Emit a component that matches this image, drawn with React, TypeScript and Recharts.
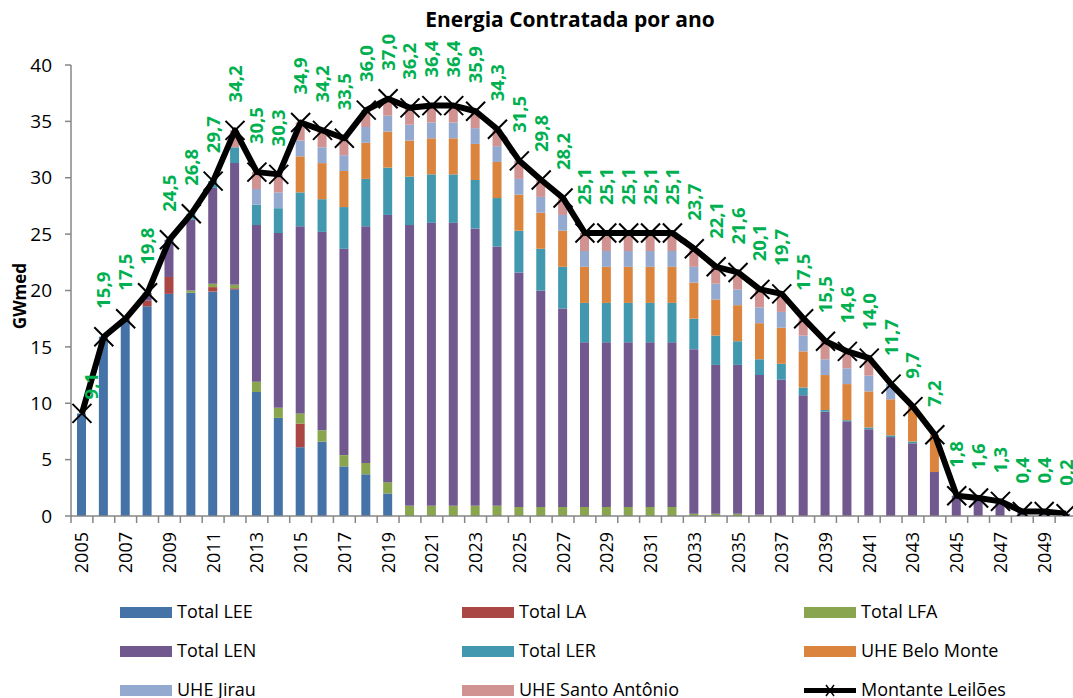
import React from 'react';
import { ComposedChart, Bar, Line, XAxis, YAxis, LabelList } from 'recharts';

const years = [
  '2005', '2006', '2007', '2008', '2009', '2010', '2011', '2012', '2013', '2014',
  '2015', '2016', '2017', '2018', '2019', '2020', '2021', '2022', '2023', '2024',
  '2025', '2026', '2027', '2028', '2029', '2030', '2031', '2032', '2033', '2034',
  '2035', '2036', '2037', '2038', '2039', '2040', '2041', '2042', '2043', '2044',
  '2045', '2046', '2047', '2048', '2049', '2050',
];

const totalLEE = [
  9.1, 15.9, 17.4, 18.6, 19.7, 19.8, 19.9, 20.1, 11.0, 8.7,
  6.1, 6.6, 4.4, 3.7, 2.0, 0, 0, 0, 0, 0,
  0, 0, 0, 0, 0, 0, 0, 0, 0, 0,
  0, 0, 0, 0, 0, 0, 0, 0, 0, 0,
  0, 0, 0, 0, 0, 0,
];

const totalLA = [
  0, 0, 0.1, 0.5, 1.5, 0, 0.4, 0.1, 0, 0,
  2.1, 0, 0, 0, 0, 0, 0, 0, 0, 0,
  0, 0, 0, 0, 0, 0, 0, 0, 0, 0,
  0, 0, 0, 0, 0, 0, 0, 0, 0, 0,
  0, 0, 0, 0, 0, 0,
];

const totalLFA = [
  0, 0, 0, 0, 0, 0.2, 0.3, 0.3, 0.9, 0.9,
  0.9, 1.0, 1.0, 1.0, 1.0, 0.9, 0.9, 0.9, 0.9, 0.9,
  0.8, 0.8, 0.8, 0.8, 0.8, 0.8, 0.8, 0.8, 0.2, 0.2,
  0.2, 0.1, 0, 0, 0, 0, 0, 0, 0, 0,
  0, 0, 0, 0, 0, 0,
];

const totalLEN = [
  0, 0, 0, 0.7, 3.3, 6.3, 8.5, 10.8, 13.9, 15.5,
  16.6, 17.6, 18.3, 21.0, 23.7, 24.9, 25.1, 25.1, 24.6, 23.0,
  20.8, 19.2, 17.6, 14.6, 14.6, 14.6, 14.6, 14.6, 14.6, 13.2,
  13.2, 12.4, 12.1, 10.7, 9.25, 8.4, 7.7, 7.0, 6.45, 3.9,
  1.8, 1.6, 1.3, 0.4, 0.4, 0.2,
];

const totalLER = [
  0, 0, 0, 0, 0, 0.5, 0.6, 1.4, 1.8, 2.2,
  3.0, 2.9, 3.7, 4.2, 4.2, 4.3, 4.3, 4.3, 4.3, 4.3,
  3.7, 3.7, 3.7, 3.5, 3.5, 3.5, 3.5, 3.5, 2.7, 2.6,
  2.1, 1.4, 1.4, 0.7, 0.15, 0.1, 0.15, 0.15, 0.15, 0,
  0, 0, 0, 0, 0, 0,
];

const uheBeloMonte = [
  0, 0, 0, 0, 0, 0, 0, 0, 0, 0,
  3.2, 3.2, 3.2, 3.2, 3.2, 3.2, 3.2, 3.2, 3.2, 3.2,
  3.2, 3.2, 3.2, 3.2, 3.2, 3.2, 3.2, 3.2, 3.2, 3.2,
  3.2, 3.2, 3.2, 3.2, 3.1, 3.2, 3.2, 3.2, 3.1, 3.3,
  0, 0, 0, 0, 0, 0,
];

const uheJirau = [
  0, 0, 0, 0, 0, 0, 0, 0, 1.4, 1.4,
  1.4, 1.4, 1.4, 1.4, 1.4, 1.4, 1.4, 1.4, 1.4, 1.4,
  1.4, 1.4, 1.4, 1.4, 1.4, 1.4, 1.4, 1.4, 1.4, 1.4,
  1.4, 1.4, 1.4, 1.4, 1.4, 1.4, 1.4, 1.35, 0, 0,
  0, 0, 0, 0, 0, 0,
];

const uheSantoAntonio = [
  0, 0, 0, 0, 0, 0, 0, 1.5, 1.5, 1.6,
  1.6, 1.5, 1.5, 1.5, 1.5, 1.5, 1.5, 1.5, 1.5, 1.5,
  1.6, 1.5, 1.5, 1.6, 1.6, 1.6, 1.6, 1.6, 1.6, 1.5,
  1.5, 1.6, 1.6, 1.5, 1.6, 1.5, 1.55, 0, 0, 0,
  0, 0, 0, 0, 0, 0,
];

const montanteLeiloes = [
  9.1, 15.9, 17.5, 19.8, 24.5, 26.8, 29.7, 34.2, 30.5, 30.3,
  34.9, 34.2, 33.5, 36.0, 37.0, 36.2, 36.4, 36.4, 35.9, 34.3,
  31.5, 29.8, 28.2, 25.1, 25.1, 25.1, 25.1, 25.1, 23.7, 22.1,
  21.6, 20.1, 19.7, 17.5, 15.5, 14.6, 14.0, 11.7, 9.7, 7.2,
  1.8, 1.6, 1.3, 0.4, 0.4, 0.2,
];

const yTicks = [0, 5, 10, 15, 20, 25, 30, 35, 40];

const series = [
  { key: 'lee', name: 'Total LEE', color: '#4572A7' },
  { key: 'la', name: 'Total LA', color: '#AA4643' },
  { key: 'lfa', name: 'Total LFA', color: '#89A54E' },
  { key: 'len', name: 'Total LEN', color: '#71588F' },
  { key: 'ler', name: 'Total LER', color: '#4198AF' },
  { key: 'bm', name: 'UHE Belo Monte', color: '#DB843D' },
  { key: 'jirau', name: 'UHE Jirau', color: '#93A9CF' },
  { key: 'sa', name: 'UHE Santo Antônio', color: '#D19392' },
];

const data = years.map((year, i) => ({
  year,
  lee: totalLEE[i],
  la: totalLA[i],
  lfa: totalLFA[i],
  len: totalLEN[i],
  ler: totalLER[i],
  bm: uheBeloMonte[i],
  jirau: uheJirau[i],
  sa: uheSantoAntonio[i],
  total: montanteLeiloes[i],
}));

const FONT = '"Open Sans", "Liberation Sans", sans-serif';
const AXIS_GRAY = '#868686';

const fmt = (v: number) => v.toFixed(1).replace('.', ',');

const XTick = (props: any) => {
  const { x, y, payload, index } = props;
  const half = payload && typeof payload.offset === 'number' && payload.offset > 0 ? payload.offset : 10.93;
  const bx = x - half;
  const tx = x + 6.5;
  const ty = y + 16;
  return (
    <g>
      <line x1={bx} y1={y} x2={bx} y2={y + 7} stroke={AXIS_GRAY} strokeWidth={1.5} />
      {index % 2 === 0 ? (
        <text
          x={tx}
          y={ty}
          transform={`rotate(-90, ${tx}, ${ty})`}
          textAnchor="end"
          fontSize={18}
          fontFamily={FONT}
          fill="#000"
        >
          {payload.value}
        </text>
      ) : null}
    </g>
  );
};

const XDot = (props: any) => {
  const { cx, cy, index } = props;
  if (cx == null || cy == null) return <g key={`d${index}`} />;
  const s = 9.5;
  return (
    <g key={`d${index}`}>
      <line x1={cx - s} y1={cy - s} x2={cx + s} y2={cy + s} stroke="#000" strokeWidth={2} />
      <line x1={cx - s} y1={cy + s} x2={cx + s} y2={cy - s} stroke="#000" strokeWidth={2} />
    </g>
  );
};

const renderLabel = (props: any) => {
  const { x, y, value, index } = props;
  if (x == null || y == null) return null;
  const first = index === 0;
  const tx = x + (first ? 16 : 6.5);
  const ty = y - (first ? 14 : 28);
  return (
    <text
      key={`l${index}`}
      x={tx}
      y={ty}
      transform={`rotate(-90, ${tx}, ${ty})`}
      textAnchor="start"
      fontSize={18.5}
      fontWeight="bold"
      fontFamily={FONT}
      fill="#00B050"
    >
      {fmt(Number(value))}
    </text>
  );
};

const legendItems = [
  { name: 'Total LEE', color: '#4572A7', col: 0, row: 0 },
  { name: 'Total LA', color: '#AA4643', col: 1, row: 0 },
  { name: 'Total LFA', color: '#89A54E', col: 2, row: 0 },
  { name: 'Total LEN', color: '#71588F', col: 0, row: 1 },
  { name: 'Total LER', color: '#4198AF', col: 1, row: 1 },
  { name: 'UHE Belo Monte', color: '#DB843D', col: 2, row: 1 },
  { name: 'UHE Jirau', color: '#93A9CF', col: 0, row: 2 },
  { name: 'UHE Santo Antônio', color: '#D19392', col: 1, row: 2 },
];

const colX = [120, 462, 804];
const rowY = [607, 646, 685];

export default function App() {
  return (
    <div
      style={{
        position: 'absolute',
        left: 0,
        top: 0,
        width: 1073,
        height: 698,
        overflow: 'hidden',
        background: '#fff',
      }}
    >
      <ComposedChart
        width={1080}
        height={698}
        data={data}
        margin={{ top: 65, right: 3, bottom: 122, left: 0 }}
      >
        <XAxis
          dataKey="year"
          height={60}
          interval={0}
          tickLine={false}
          tickSize={0}
          tickMargin={0}
          axisLine={{ stroke: AXIS_GRAY, strokeWidth: 1.5 }}
          tick={<XTick />}
        />
        <YAxis
          width={71}
          domain={[0, 40]}
          ticks={yTicks}
          allowDataOverflow
          tickSize={6}
          tickMargin={13}
          axisLine={{ stroke: AXIS_GRAY, strokeWidth: 1.5 }}
          tickLine={{ stroke: AXIS_GRAY, strokeWidth: 1.5 }}
          tick={{ fill: '#000', fontSize: 19, fontFamily: FONT }}
        />
        {series.map((s) => (
          <Bar
            key={s.key}
            dataKey={s.key}
            name={s.name}
            stackId="a"
            fill={s.color}
            barSize={9}
            isAnimationActive={false}
          />
        ))}
        <Line
          dataKey="total"
          name="Montante Leilões"
          type="linear"
          stroke="#000"
          strokeWidth={6}
          strokeLinejoin="round"
          dot={XDot}
          activeDot={false}
          isAnimationActive={false}
        >
          <LabelList dataKey="total" content={renderLabel} />
        </Line>
      </ComposedChart>
      <svg
        width={1073}
        height={698}
        style={{ position: 'absolute', left: 0, top: 0, pointerEvents: 'none' }}
      >
        <text
          x={570}
          y={27}
          textAnchor="middle"
          fontSize={21}
          fontWeight="bold"
          fontFamily={FONT}
          fill="#000"
        >
          Energia Contratada por ano
        </text>
        <text
          x={26}
          y={296}
          transform="rotate(-90, 26, 296)"
          textAnchor="middle"
          fontSize={17}
          fontWeight="bold"
          fontFamily={FONT}
          fill="#000"
        >
          GWmed
        </text>
        {legendItems.map((it) => (
          <g key={it.name}>
            <rect x={colX[it.col]} y={rowY[it.row]} width={52} height={11} fill={it.color} />
            <text
              x={colX[it.col] + 57}
              y={rowY[it.row] + 11}
              fontSize={18}
              fontFamily={FONT}
              fill="#000"
            >
              {it.name}
            </text>
          </g>
        ))}
        <g>
          <line x1={colX[2]} y1={rowY[2] + 5.5} x2={colX[2] + 52} y2={rowY[2] + 5.5} stroke="#000" strokeWidth={5} />
          <line x1={colX[2] + 22} y1={rowY[2]} x2={colX[2] + 30} y2={rowY[2] + 11} stroke="#000" strokeWidth={1.5} />
          <line x1={colX[2] + 22} y1={rowY[2] + 11} x2={colX[2] + 30} y2={rowY[2]} stroke="#000" strokeWidth={1.5} />
          <text x={colX[2] + 57} y={rowY[2] + 11} fontSize={18} fontFamily={FONT} fill="#000">
            Montante Leilões
          </text>
        </g>
      </svg>
    </div>
  );
}
